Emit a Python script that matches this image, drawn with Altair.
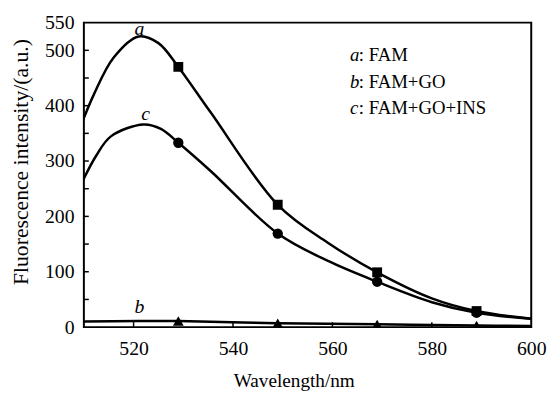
import altair as alt
import pandas as pd

# ---- data ----
a_wl = [509, 512, 516, 521, 525, 529, 535.5, 549, 559, 569, 580, 589, 600]
a_val = [355, 420, 487, 525, 513, 470, 388, 221, 153, 99, 52, 29, 15]

c_wl = [509, 512.5, 515.5, 522, 525.5, 529, 535.5, 549, 559, 569, 580, 589, 600]
c_val = [250, 310, 345, 366, 358, 333, 282, 169, 120, 82, 45, 26, 15]

b_wl = [509, 521, 529, 549, 569, 589, 600]
b_val = [10, 11, 11, 7, 5, 3, 2]

mk_wl = [509, 529, 549, 569, 589]
a_mk = [355, 470, 221, 99, 29]
b_mk = [10, 11, 7, 5, 3]
c_mk = [250, 333, 169, 82, 26]

curve_letters = ["a", "b", "c"]
curve_label_wl = [521.2, 521.2, 522.4]
curve_label_val = [538, 37, 384]

legend_letters = ["a", "b", "c"]
legend_texts = [": FAM", ": FAM+GO", ": FAM+GO+INS"]

x_ticks = [520, 540, 560, 580]
y_ticks = [50, 100, 150, 200, 250, 300, 350, 400, 450, 500]
y_labels = [0, 100, 200, 300, 400, 500, 550]
x_labels = [520, 540, 560, 580, 600]

FONT = "Liberation Serif"
W, H = 454, 309

lines = pd.DataFrame(
    [{"wl": w, "v": v, "s": "a"} for w, v in zip(a_wl, a_val)]
    + [{"wl": w, "v": v, "s": "b"} for w, v in zip(b_wl, b_val)]
    + [{"wl": w, "v": v, "s": "c"} for w, v in zip(c_wl, c_val)]
)
marks_df = {
    "a": pd.DataFrame({"wl": mk_wl, "v": a_mk}),
    "b": pd.DataFrame({"wl": mk_wl, "v": b_mk}),
    "c": pd.DataFrame({"wl": mk_wl, "v": c_mk}),
}

xs = alt.Scale(domain=[510, 600], nice=False, zero=False)
ys = alt.Scale(domain=[0, 550], nice=False)

x_enc = alt.X("wl:Q", scale=xs, axis=alt.Axis(
    title="Wavelength/nm", values=x_labels, ticks=False, domain=False, grid=False,
    labelFont=FONT, labelFontSize=20, labelColor="black", labelPadding=12,
    titleFont=FONT, titleFontSize=19.5, titleFontWeight="normal", titleColor="black",
    titleX=213, titleY=60, titleBaseline="alphabetic", titleAlign="center",
    labelFlush=False))
y_enc = alt.Y("v:Q", scale=ys, axis=alt.Axis(
    title="Fluorescence intensity/(a.u.)", values=y_labels, ticks=False, domain=False,
    grid=False, labelFont=FONT, labelFontSize=20, labelColor="black", labelPadding=10,
    titleFont=FONT, titleFontSize=22, titleFontWeight="normal", titleColor="black",
    titleX=-57, titleY=141, titleAngle=270, titleBaseline="alphabetic",
    titleAlign="center", labelFlush=False))

line_layer = alt.Chart(lines).mark_line(
    color="black", strokeWidth=2.5, interpolate="catmull-rom", clip=True
).encode(x=x_enc, y=y_enc, detail="s:N")

pts = []
for key, shape, size in [("a", "square", 100), ("b", "triangle-up", 120), ("c", "circle", 110)]:
    pts.append(
        alt.Chart(marks_df[key]).mark_point(
            shape=shape, filled=True, color="black", opacity=1, size=size, clip=True
        ).encode(x=alt.X("wl:Q", scale=xs), y=alt.Y("v:Q", scale=ys))
    )

lab_df = pd.DataFrame({"t": curve_letters, "wl": curve_label_wl, "v": curve_label_val})
labels = alt.Chart(lab_df).mark_text(
    font=FONT, fontSize=20, fontStyle="italic", color="black", baseline="middle"
).encode(x=alt.X("wl:Q", scale=xs), y=alt.Y("v:Q", scale=ys), text="t:N")

leg_layers = []
for i, (l, t) in enumerate(zip(legend_letters, legend_texts)):
    row_df = pd.DataFrame({"l": [l], "t": [t]})
    yb = 39 + 27 * i
    leg_layers.append(alt.Chart(row_df).mark_text(
        font=FONT, fontSize=19, fontStyle="italic", color="black", align="left",
        baseline="alphabetic").encode(x=alt.value(270), y=alt.value(yb), text="l:N"))
    leg_layers.append(alt.Chart(row_df).mark_text(
        font=FONT, fontSize=19, color="black", align="left",
        baseline="alphabetic").encode(x=alt.value(279), y=alt.value(yb), text="t:N"))

ytick_df = pd.DataFrame({"v": y_ticks})
ytick_layer = alt.Chart(ytick_df).mark_rule(color="black", strokeWidth=1.5).encode(
    y=alt.Y("v:Q", scale=ys), x=alt.value(0), x2=alt.value(5))
xtick_df = pd.DataFrame({"wl": x_ticks})
xtick_layer = alt.Chart(xtick_df).mark_rule(color="black", strokeWidth=1.5).encode(
    x=alt.X("wl:Q", scale=xs), y=alt.value(H), y2=alt.value(H - 5))

chart = alt.layer(
    line_layer, *pts, labels, *leg_layers, ytick_layer, xtick_layer
).properties(
    width=W, height=H,
    autosize=alt.AutoSizeParams(type="none"),
    padding={"left": 77, "top": 12, "right": 16, "bottom": 63},
    background="white",
).configure_view(stroke="black", strokeWidth=2)

chart.save("out.html", embed_options={"renderer": "svg", "actions": False})
